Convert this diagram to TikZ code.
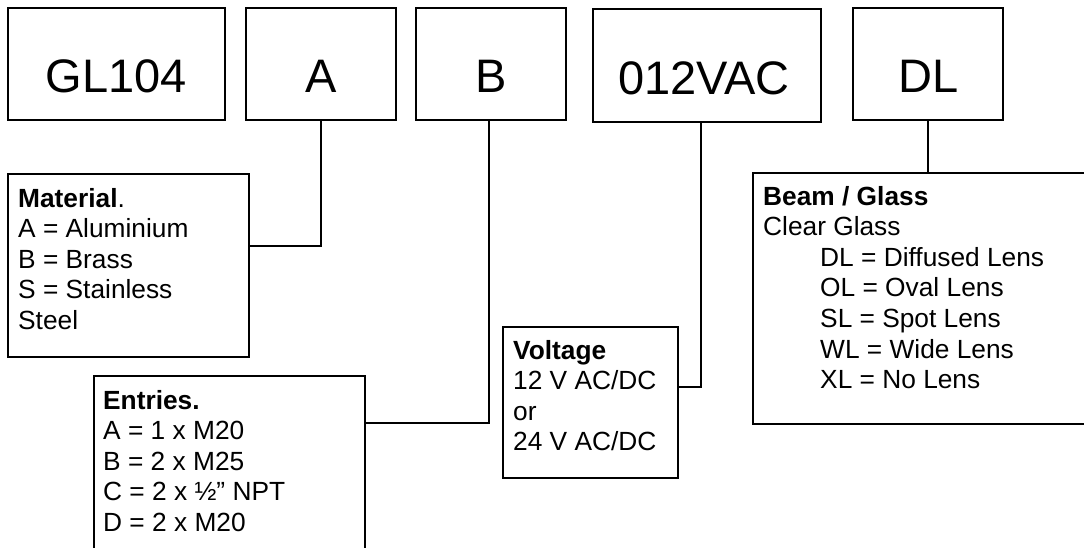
\documentclass[tikz,border=0pt]{standalone}
\usepackage{fontspec}
\setmainfont{Liberation Sans}
\usetikzlibrary{fit}
\begin{document}
\begin{tikzpicture}[x=1pt,y=-1pt,
  box/.style={draw=black, line width=1.6pt, inner sep=0pt},
  link/.style={draw=black, line width=1.3pt},
  bigtxt/.style={font=\fontsize{47}{50}\selectfont, inner sep=0pt, anchor=base},
  body/.style={font=\fontsize{26.3}{30.6}\selectfont, inner sep=0pt, anchor=base west}]
\useasboundingbox (0,0) rectangle (1084,547);
\clip (0,0) rectangle (1084,547);
\fill[white] (0,0) rectangle (1084,547);
% top code boxes
\node[box, fit={(8,8) (225,120)}] (gl) {};
\node[box, fit={(246,8) (396,120)}] (A) {};
\node[box, fit={(416,8) (566,120)}] (B) {};
\node[box, fit={(593,9) (821,122)}] (vac) {};
\node[box, fit={(853,8) (1003,120)}] (dl) {};
\node[bigtxt] (gltxt) at (116.5,92) {GL104};
\node[bigtxt] (Atxt) at (321,92) {A};
\node[bigtxt] (Btxt) at (491,92) {B};
\node[bigtxt] (vactxt) at (704,94) {012VAC};
\node[bigtxt] (dltxt) at (929,92) {DL};
% description boxes
\node[box, fit={(8,174) (249,357)}] (mat) {};
\node[box, fit={(94,376) (365,570)}] (ent) {};
\node[box, fit={(503,327) (678,478)}] (volt) {};
\node[box, fit={(753,173) (1100,424)}] (beam) {};
\node[body] (mattxt) at (18,207) {\begin{tabular}[t]{@{}l@{}}\textbf{Material}.\\A = Aluminium\\B = Brass\\S = Stainless\\Steel\end{tabular}};
\node[body] (enttxt) at (103,409) {\begin{tabular}[t]{@{}l@{}}\textbf{Entries.}\\A = 1 x M20\\B = 2 x M25\\C = 2 x ½” NPT\\D = 2 x M20\end{tabular}};
\node[body] (volttxt) at (513,359) {\begin{tabular}[t]{@{}l@{}}\textbf{Voltage}\\12 V AC/DC\\or\\24 V AC/DC\end{tabular}};
\node[body] (beamtxt) at (763,205) {\begin{tabular}[t]{@{}l@{}}\textbf{Beam / Glass}\\Clear Glass\\\hspace*{57pt}DL = Diffused Lens\\\hspace*{57pt}OL = Oval Lens\\\hspace*{57pt}SL = Spot Lens\\\hspace*{57pt}WL = Wide Lens\\\hspace*{57pt}XL = No Lens\end{tabular}};
% connectors
\coordinate (matjoin) at (249,246);
\coordinate (entjoin) at (365,423);
\coordinate (voljoin) at (678,387);
\draw[link] (A.south) |- (matjoin);
\draw[link] ([xshift=-2pt]B.south) |- (entjoin);
\draw[link] ([xshift=-6pt]vac.south) |- (voljoin);
\draw[link] (dl.south) -- (dl.south |- beam.north);
\end{tikzpicture}
\end{document}
